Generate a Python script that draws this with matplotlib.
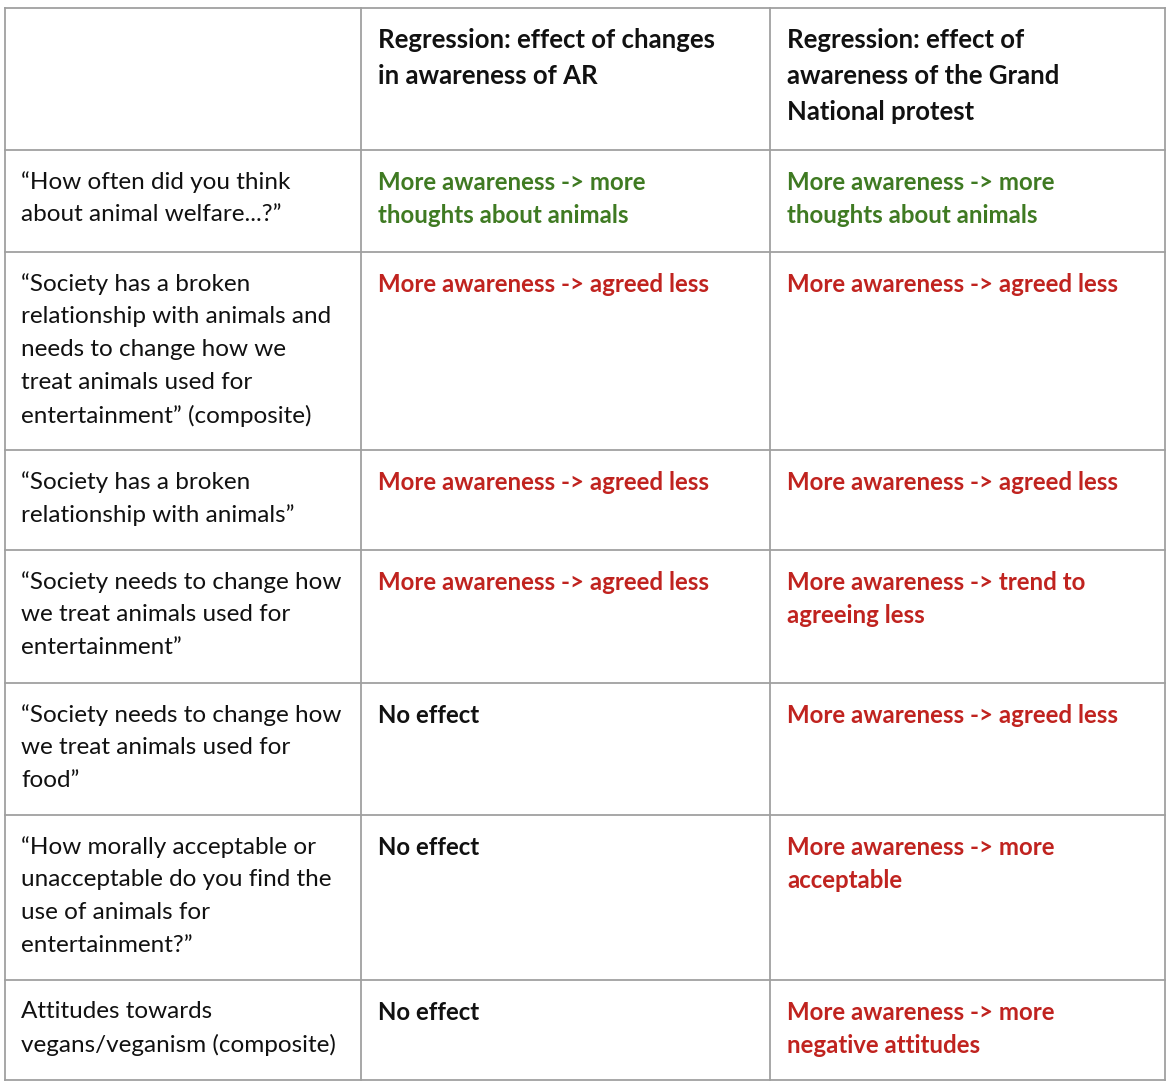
import matplotlib
matplotlib.use("Agg")
import matplotlib.pyplot as plt

headers = ["", "Regression: effect of changes\nin awareness of AR",
           "Regression: effect of\nawareness of the Grand\nNational protest"]
questions = [
    "“How often did you think\nabout animal welfare...?”",
    "“Society has a broken\nrelationship with animals and\nneeds to change how we\ntreat animals used for\nentertainment” (composite)",
    "“Society has a broken\nrelationship with animals”",
    "“Society needs to change how\nwe treat animals used for\nentertainment”",
    "“Society needs to change how\nwe treat animals used for\nfood”",
    "“How morally acceptable or\nunacceptable do you find the\nuse of animals for\nentertainment?”",
    "Attitudes towards\nvegans/veganism (composite)",
]
col_ar = ["More awareness -> more\nthoughts about animals",
          "More awareness -> agreed less",
          "More awareness -> agreed less",
          "More awareness -> agreed less",
          "No effect", "No effect", "No effect"]
col_gn = ["More awareness -> more\nthoughts about animals",
          "More awareness -> agreed less",
          "More awareness -> agreed less",
          "More awareness -> trend to\nagreeing less",
          "More awareness -> agreed less",
          "More awareness -> more\nacceptable",
          "More awareness -> more\nnegative attitudes"]

GREEN, RED, BLACK = "#3f7a22", "#c0231f", "#111111"
def color_of(t):
    if t.startswith("No effect"):
        return BLACK
    return GREEN if "thoughts" in t else RED

W, H = 1174, 1090
fig = plt.figure(figsize=(W/100, H/100), dpi=100)
ax = fig.add_axes([0, 0, 1, 1])
ax.set_xlim(0, W); ax.set_ylim(H, 0); ax.axis("off")
plt.rcParams['font.family'] = ['Lato', 'DejaVu Sans']

xs = [5, 361, 770, 1165]
ys = [8, 150, 252, 450, 550, 683, 815, 980, 1080]
lc = "#a0a0a0"
for x in xs:
    ax.plot([x, x], [ys[0], ys[-1]], color=lc, lw=1.3)
for y in ys:
    ax.plot([xs[0], xs[-1]], [y, y], color=lc, lw=1.3)

def put(x, ytop, text, color, bold, pitch, size):
    for i, line in enumerate(text.split("\n")):
        ax.text(x, ytop + i*pitch, line, color=color, fontsize=size,
                fontweight="bold" if bold else "normal", va="top", ha="left")

for c, h in enumerate(headers):
    put(xs[c] + 17, ys[0] + 20, h, BLACK, True, 36, 18.5)
for r in range(len(questions)):
    yt = ys[r+1] + 21
    put(xs[0] + 16, yt, questions[r], BLACK, False, 33, 17.5)
    put(xs[1] + 17, yt, col_ar[r], color_of(col_ar[r]), True, 33, 17.3)
    put(xs[2] + 17, yt, col_gn[r], color_of(col_gn[r]), True, 33, 17.3)

fig.savefig("out.png", dpi=100, facecolor="white")
